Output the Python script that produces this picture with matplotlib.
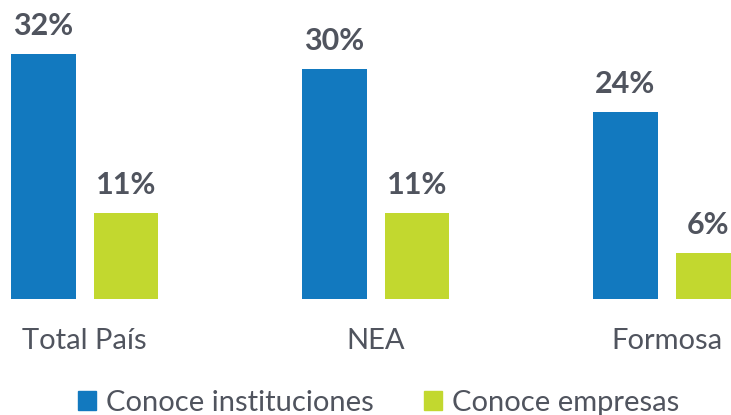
import numpy as np
import matplotlib.pyplot as plt
from matplotlib.patches import Patch

categorias = ["Total País", "NEA", "Formosa"]
instituciones = [32, 30, 24.4]
empresas = [11.2, 11.2, 6]
series = ["Conoce instituciones", "Conoce empresas"]

azul = "#1279BF"
verde = "#C2D82F"
gris = "#50545E"

plt.rcParams['font.family'] = ['Lato', 'DejaVu Sans']

fig = plt.figure(figsize=(7.31, 4.15), dpi=100)
ax = fig.add_axes([0, 0.2795, 1, 0.7205])

x = np.arange(len(categorias))
w = 0.223
off = 0.1418
b1 = ax.bar(x - off, instituciones, w, color=azul)
b2 = ax.bar(x + off, empresas, w, color=verde)

for bars, vals in [(b1, instituciones), (b2, empresas)]:
    for b, v in zip(bars, vals):
        ax.annotate(f"{v:.0f}%", (b.get_x() + b.get_width() / 2, v),
                    xytext=(0, 13.5), textcoords="offset points",
                    ha="center", va="baseline", fontsize=22,
                    fontweight="bold", color=gris)

ax.set_xlim(-0.2912, 2.2208)
ax.set_ylim(0, 38.98)
ax.set_xticks(x)
ax.set_xticklabels(categorias, fontsize=21, color=gris)
ax.tick_params(axis="x", length=0, pad=21)
ax.set_yticks([])
for s in ax.spines.values():
    s.set_visible(False)

handles = [Patch(color=azul), Patch(color=verde)]
fig.legend(handles, series, loc="lower center", bbox_to_anchor=(0.518, -0.065),
           ncol=2, frameon=False, fontsize=21, labelcolor=gris,
           handlelength=0.62, handleheight=0.62, handletextpad=0.34,
           columnspacing=1.7)

fig.savefig("out.png", dpi=100)
